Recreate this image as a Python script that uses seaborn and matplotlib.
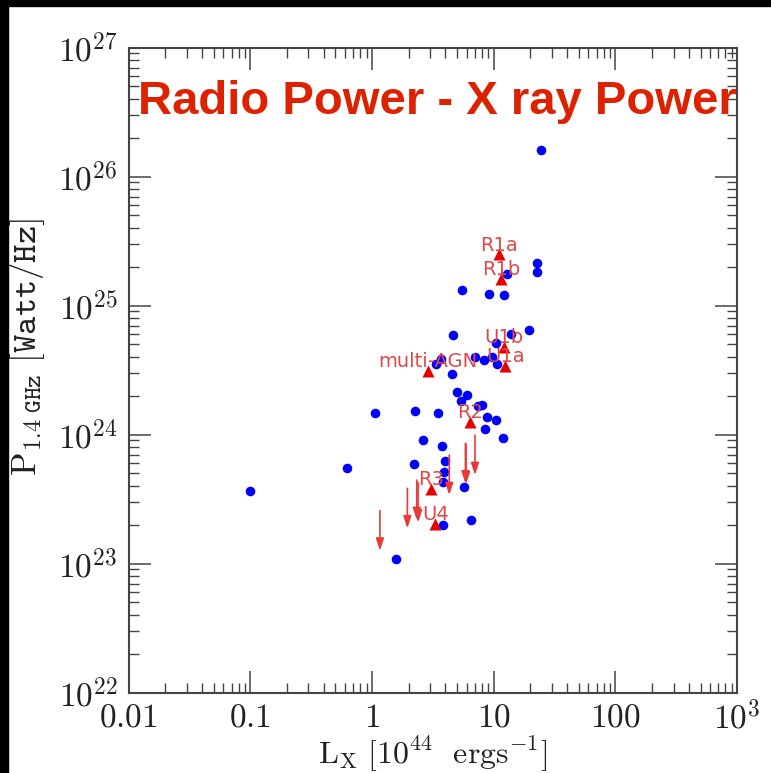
import numpy as np
import matplotlib
matplotlib.use("Agg")
import matplotlib.pyplot as plt
import seaborn as sns
from matplotlib.ticker import LogLocator, NullFormatter
from matplotlib.patches import Rectangle

# ---------------- data ----------------
# detected sources (blue dots): X-ray luminosity [1e44 erg/s], radio power [W/Hz]
det_lx = [24.4, 22.8, 22.8, 12.9, 5.45, 9.08, 12.1, 19.6, 4.59, 13.8, 10.4, 3.66,
          3.35, 7.05, 8.26, 9.67, 10.7, 4.56, 4.99, 6.06, 5.41, 8.05, 7.46, 1.06,
          2.24, 3.48, 8.75, 10.4, 8.47, 12.0, 2.64, 3.73, 0.625, 2.21, 3.97, 3.92,
          3.80, 5.72, 6.50, 3.80, 1.56, 0.0993]
det_p = [1.60e26, 2.15e25, 1.81e25, 1.75e25, 1.32e25, 1.23e25, 1.20e25, 6.49e24,
         5.87e24, 6.04e24, 5.12e24, 3.83e24, 3.52e24, 4.01e24, 3.76e24, 3.97e24,
         3.52e24, 2.94e24, 2.12e24, 2.04e24, 1.81e24, 1.70e24, 1.67e24, 1.48e24,
         1.51e24, 1.48e24, 1.36e24, 1.29e24, 1.10e24, 9.35e23, 9.07e23, 8.15e23,
         5.47e23, 5.91e23, 6.26e23, 5.15e23, 4.31e23, 3.94e23, 2.19e23, 1.98e23,
         1.09e23, 3.65e23]

# labelled objects (red triangles)
tri_names = ["R1a", "R1b", "U1b", "U1a", "multi-AGN", "R2", "R3", "U4"]
tri_lx = [11.1, 11.5, 12.1, 12.4, 2.86, 6.37, 3.05, 3.31]
tri_p = [2.49e25, 1.60e25, 4.80e24, 3.40e24, 3.11e24, 1.25e24, 3.78e23, 2.02e23]

# upper limits (red arrows)
ul_lx = [1.16, 1.95, 2.33, 2.39, 4.31, 5.85, 5.92, 7.01]
ul_p = [2.57e23, 3.83e23, 4.44e23, 4.25e23, 6.93e23, 8.55e23, 8.40e23, 9.90e23]
ul_len_dex = 0.31

x_ticks = [0.01, 0.1, 1, 10, 100, 1000]
x_ticklabels = [r"$0.01$", r"$0.1$", r"$1$", r"$10$", r"$100$", r"$10^{3}$"]
y_ticks = [1e22, 1e23, 1e24, 1e25, 1e26, 1e27]
y_ticklabels = [r"$10^{22}$", r"$10^{23}$", r"$10^{24}$", r"$10^{25}$", r"$10^{26}$", r"$10^{27}$"]

title = "Radio Power - X ray Power"

# ---------------- style ----------------
sns.set_theme(style="white")
plt.rcParams["font.family"] = ["DejaVu Sans"]
plt.rcParams["mathtext.fontset"] = "cm"

fig = plt.figure(figsize=(7.71, 7.73), dpi=100)
fig.patch.set_facecolor("white")
ax = fig.add_axes([0.1669, 0.1041, 0.7892, 0.8344])
ax.set_facecolor("white")

sns.scatterplot(x=det_lx, y=det_p, color="#0000ff", s=48, linewidth=0,
                ax=ax, zorder=3, legend=False)
sns.scatterplot(x=tri_lx, y=tri_p, marker="^", color="#e60000", s=75,
                linewidth=0, ax=ax, zorder=4, legend=False)

ax.set_xscale("log")
ax.set_yscale("log")
ax.set_xlim(0.01, 1000)
ax.set_ylim(1e22, 1e27)

arrow_col = "#e83a3a"
for x, y in zip(ul_lx, ul_p):
    ax.annotate("", xy=(x, y * 10 ** (-ul_len_dex)), xytext=(x, y),
                arrowprops=dict(arrowstyle="-|>,head_length=0.6,head_width=0.2",
                                color=arrow_col, lw=1.2, mutation_scale=12,
                                shrinkA=0, shrinkB=0), zorder=5)

for name, x, y in zip(tri_names, tri_lx, tri_p):
    ax.annotate(name, (x, y), xytext=(0, 2.7), textcoords="offset points",
                ha="center", va="baseline", fontsize=14, color="#e04848",
                zorder=6)

# ticks
ax.set_xticks(x_ticks, x_ticklabels)
ax.set_yticks(y_ticks, y_ticklabels)
ax.xaxis.set_minor_locator(LogLocator(base=10, subs=np.arange(2, 10), numticks=30))
ax.yaxis.set_minor_locator(LogLocator(base=10, subs=np.arange(2, 10), numticks=30))
ax.xaxis.set_minor_formatter(NullFormatter())
ax.yaxis.set_minor_formatter(NullFormatter())
ax.tick_params(which="both", direction="in", top=True, right=True,
               bottom=True, left=True,
               color="#444444", labelcolor="#222222", labelsize=24)
ax.tick_params(which="major", length=15.5, width=1.1, pad=8)
ax.tick_params(axis="x", which="major", pad=6)
ax.tick_params(which="minor", length=7.2, width=1.0)
for sp in ax.spines.values():
    sp.set_color("#444444")
    sp.set_linewidth(1.5)

ax.set_xlabel(r"$\mathrm{L}_{\mathrm{X}}\ [10^{44}\ \ \mathrm{ergs}^{-1}]$",
              fontsize=23, color="#222222")
ax.set_ylabel(r"$\mathrm{P}_{1.4\ \mathtt{GHz}}\ [\mathtt{Watt/Hz}]$",
              fontsize=25, color="#222222")
ax.xaxis.set_label_coords(0.5, -0.066)
ax.yaxis.set_label_coords(-0.135, 0.536)

fig.text(138 / 771, 1 - 114 / 773, title, fontsize=34, fontweight="bold",
         family=["Liberation Sans", "DejaVu Sans"], color="#dc2200",
         ha="left", va="baseline", zorder=10)

# black frame strips of the original screenshot
fig.add_artist(Rectangle((0, 1 - 6 / 773), 1, 6 / 773, transform=fig.transFigure,
                         color="black", zorder=20))
fig.add_artist(Rectangle((0, 0), 8 / 771, 1, transform=fig.transFigure,
                         color="black", zorder=20))

fig.savefig("out.png", dpi=100, facecolor="white")
